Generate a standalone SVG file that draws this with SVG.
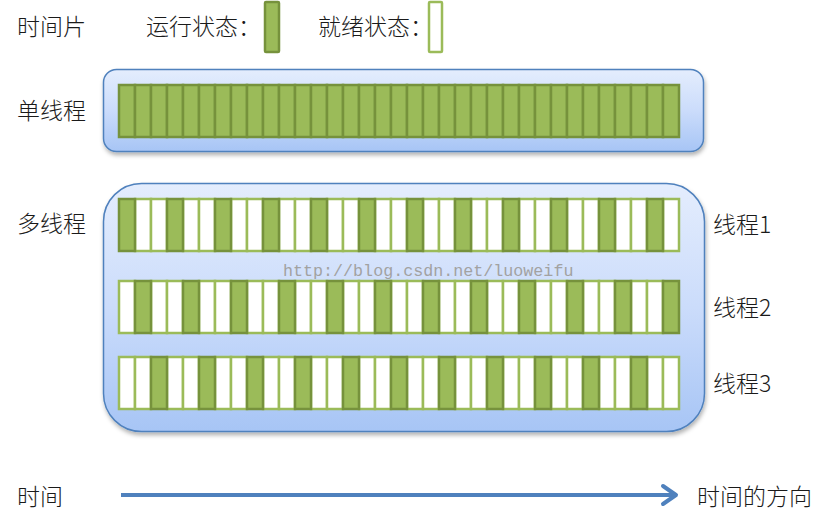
<svg xmlns="http://www.w3.org/2000/svg" xmlns:xlink="http://www.w3.org/1999/xlink" width="838" height="523" viewBox="0 0 838 523">
<style>
.t{font-family:"Noto Sans CJK SC","Liberation Sans",sans-serif;font-size:23px;font-weight:300;fill:#1a1a1a}
.run{fill:#9bbb59;stroke:#76923c;stroke-width:2.5}
.ready{fill:#fff;stroke:#9bbb59;stroke-width:2.5}
.box{fill:url(#bg);stroke:#4f81bd;stroke-width:1.5;filter:url(#sh)}
.wm{font-family:"Liberation Mono",monospace;font-size:16.7px;fill:#a2a2a2}
.arrow{stroke:#4f81bd;stroke-width:4;fill:none}
</style>
<defs>
<linearGradient id="bg" x1="0" y1="0" x2="0" y2="1">
<stop offset="0" stop-color="#e4edfd"/>
<stop offset="0.5" stop-color="#cbdcfb"/>
<stop offset="1" stop-color="#a7c5f5"/>
</linearGradient>
<filter id="sh" x="-5%" y="-10%" width="110%" height="125%">
<feDropShadow dx="1" dy="3" stdDeviation="2" flood-color="#000" flood-opacity="0.3"/>
</filter>
<rect id="cell" width="16" height="52"/>
<marker id="head" markerUnits="userSpaceOnUse" markerWidth="24" markerHeight="30" refX="16" refY="12" orient="auto" viewBox="0 0 24 24">
<path d="M3,3 L16,12 L3,21" fill="none" stroke="#4f81bd" stroke-width="4" stroke-linecap="round" stroke-linejoin="round"/>
</marker>
</defs>
<rect width="838" height="523" fill="#fff"/>

<g id="legend">
<text class="t" x="17" y="35">时间片</text>
<text class="t" x="146" y="35">运行状态：</text>
<rect class="run" x="265" y="2" width="14" height="50" rx="1"/>
<text class="t" x="318" y="35">就绪状态：</text>
<rect class="ready" x="429" y="2" width="13" height="50" rx="1"/>
</g>

<g id="single-thread">
<rect class="box" x="103.5" y="69.5" width="600" height="82" rx="13"/>
<text class="t" x="17" y="119">单线程</text>
<g id="single-row">
<use href="#cell" class="run" x="119" y="85"/><use href="#cell" class="run" x="135" y="85"/><use href="#cell" class="run" x="151" y="85"/><use href="#cell" class="run" x="167" y="85"/><use href="#cell" class="run" x="183" y="85"/><use href="#cell" class="run" x="199" y="85"/><use href="#cell" class="run" x="215" y="85"/><use href="#cell" class="run" x="231" y="85"/><use href="#cell" class="run" x="247" y="85"/><use href="#cell" class="run" x="263" y="85"/><use href="#cell" class="run" x="279" y="85"/><use href="#cell" class="run" x="295" y="85"/><use href="#cell" class="run" x="311" y="85"/><use href="#cell" class="run" x="327" y="85"/><use href="#cell" class="run" x="343" y="85"/><use href="#cell" class="run" x="359" y="85"/><use href="#cell" class="run" x="375" y="85"/><use href="#cell" class="run" x="391" y="85"/><use href="#cell" class="run" x="407" y="85"/><use href="#cell" class="run" x="423" y="85"/><use href="#cell" class="run" x="439" y="85"/><use href="#cell" class="run" x="455" y="85"/><use href="#cell" class="run" x="471" y="85"/><use href="#cell" class="run" x="487" y="85"/><use href="#cell" class="run" x="503" y="85"/><use href="#cell" class="run" x="519" y="85"/><use href="#cell" class="run" x="535" y="85"/><use href="#cell" class="run" x="551" y="85"/><use href="#cell" class="run" x="567" y="85"/><use href="#cell" class="run" x="583" y="85"/><use href="#cell" class="run" x="599" y="85"/><use href="#cell" class="run" x="615" y="85"/><use href="#cell" class="run" x="631" y="85"/><use href="#cell" class="run" x="647" y="85"/><use href="#cell" class="run" x="663" y="85"/>
</g>
</g>

<g id="multi-thread">
<rect class="box" x="103.5" y="183.5" width="601" height="248" rx="38"/>
<text class="t" x="17" y="232">多线程</text>
<text class="wm" x="283" y="276">http://blog.csdn.net/luoweifu</text>
<g id="thread1">
<use href="#cell" class="ready" x="135" y="199"/><use href="#cell" class="ready" x="151" y="199"/><use href="#cell" class="ready" x="183" y="199"/><use href="#cell" class="ready" x="199" y="199"/><use href="#cell" class="ready" x="231" y="199"/><use href="#cell" class="ready" x="247" y="199"/><use href="#cell" class="ready" x="279" y="199"/><use href="#cell" class="ready" x="295" y="199"/><use href="#cell" class="ready" x="327" y="199"/><use href="#cell" class="ready" x="343" y="199"/><use href="#cell" class="ready" x="375" y="199"/><use href="#cell" class="ready" x="391" y="199"/><use href="#cell" class="ready" x="423" y="199"/><use href="#cell" class="ready" x="439" y="199"/><use href="#cell" class="ready" x="471" y="199"/><use href="#cell" class="ready" x="487" y="199"/><use href="#cell" class="ready" x="519" y="199"/><use href="#cell" class="ready" x="535" y="199"/><use href="#cell" class="ready" x="567" y="199"/><use href="#cell" class="ready" x="583" y="199"/><use href="#cell" class="ready" x="615" y="199"/><use href="#cell" class="ready" x="631" y="199"/><use href="#cell" class="ready" x="663" y="199"/>
<use href="#cell" class="run" x="119" y="199"/><use href="#cell" class="run" x="167" y="199"/><use href="#cell" class="run" x="215" y="199"/><use href="#cell" class="run" x="263" y="199"/><use href="#cell" class="run" x="311" y="199"/><use href="#cell" class="run" x="359" y="199"/><use href="#cell" class="run" x="407" y="199"/><use href="#cell" class="run" x="455" y="199"/><use href="#cell" class="run" x="503" y="199"/><use href="#cell" class="run" x="551" y="199"/><use href="#cell" class="run" x="599" y="199"/><use href="#cell" class="run" x="647" y="199"/>
<text class="t" x="713" y="233">线程1</text>
</g>
<g id="thread2">
<use href="#cell" class="ready" x="119" y="281"/><use href="#cell" class="ready" x="151" y="281"/><use href="#cell" class="ready" x="167" y="281"/><use href="#cell" class="ready" x="199" y="281"/><use href="#cell" class="ready" x="215" y="281"/><use href="#cell" class="ready" x="247" y="281"/><use href="#cell" class="ready" x="263" y="281"/><use href="#cell" class="ready" x="295" y="281"/><use href="#cell" class="ready" x="311" y="281"/><use href="#cell" class="ready" x="343" y="281"/><use href="#cell" class="ready" x="359" y="281"/><use href="#cell" class="ready" x="391" y="281"/><use href="#cell" class="ready" x="407" y="281"/><use href="#cell" class="ready" x="439" y="281"/><use href="#cell" class="ready" x="455" y="281"/><use href="#cell" class="ready" x="487" y="281"/><use href="#cell" class="ready" x="503" y="281"/><use href="#cell" class="ready" x="535" y="281"/><use href="#cell" class="ready" x="551" y="281"/><use href="#cell" class="ready" x="583" y="281"/><use href="#cell" class="ready" x="599" y="281"/><use href="#cell" class="ready" x="631" y="281"/><use href="#cell" class="ready" x="647" y="281"/>
<use href="#cell" class="run" x="135" y="281"/><use href="#cell" class="run" x="183" y="281"/><use href="#cell" class="run" x="231" y="281"/><use href="#cell" class="run" x="279" y="281"/><use href="#cell" class="run" x="327" y="281"/><use href="#cell" class="run" x="375" y="281"/><use href="#cell" class="run" x="423" y="281"/><use href="#cell" class="run" x="471" y="281"/><use href="#cell" class="run" x="519" y="281"/><use href="#cell" class="run" x="567" y="281"/><use href="#cell" class="run" x="615" y="281"/><use href="#cell" class="run" x="663" y="281"/>
<text class="t" x="713" y="316">线程2</text>
</g>
<g id="thread3">
<use href="#cell" class="ready" x="119" y="357"/><use href="#cell" class="ready" x="135" y="357"/><use href="#cell" class="ready" x="167" y="357"/><use href="#cell" class="ready" x="183" y="357"/><use href="#cell" class="ready" x="215" y="357"/><use href="#cell" class="ready" x="231" y="357"/><use href="#cell" class="ready" x="263" y="357"/><use href="#cell" class="ready" x="279" y="357"/><use href="#cell" class="ready" x="311" y="357"/><use href="#cell" class="ready" x="327" y="357"/><use href="#cell" class="ready" x="359" y="357"/><use href="#cell" class="ready" x="375" y="357"/><use href="#cell" class="ready" x="407" y="357"/><use href="#cell" class="ready" x="423" y="357"/><use href="#cell" class="ready" x="455" y="357"/><use href="#cell" class="ready" x="471" y="357"/><use href="#cell" class="ready" x="503" y="357"/><use href="#cell" class="ready" x="519" y="357"/><use href="#cell" class="ready" x="551" y="357"/><use href="#cell" class="ready" x="567" y="357"/><use href="#cell" class="ready" x="599" y="357"/><use href="#cell" class="ready" x="615" y="357"/><use href="#cell" class="ready" x="647" y="357"/><use href="#cell" class="ready" x="663" y="357"/>
<use href="#cell" class="run" x="151" y="357"/><use href="#cell" class="run" x="199" y="357"/><use href="#cell" class="run" x="247" y="357"/><use href="#cell" class="run" x="295" y="357"/><use href="#cell" class="run" x="343" y="357"/><use href="#cell" class="run" x="391" y="357"/><use href="#cell" class="run" x="439" y="357"/><use href="#cell" class="run" x="487" y="357"/><use href="#cell" class="run" x="535" y="357"/><use href="#cell" class="run" x="583" y="357"/><use href="#cell" class="run" x="631" y="357"/>
<text class="t" x="713" y="392">线程3</text>
</g>
</g>

<g id="time-axis">
<text class="t" x="17" y="505">时间</text>
<text class="t" x="697" y="505">时间的方向</text>
</g>

<g id="connectors">
<line class="arrow" x1="121" y1="495" x2="676" y2="495" marker-end="url(#head)"/>
</g>
</svg>
